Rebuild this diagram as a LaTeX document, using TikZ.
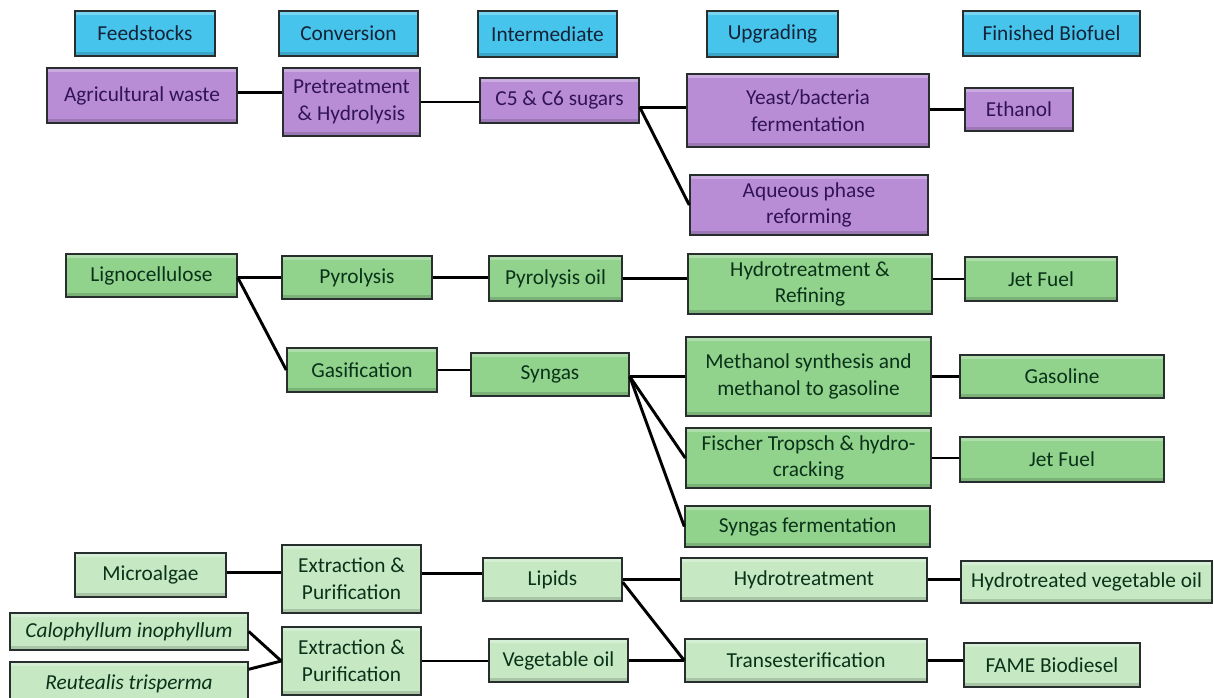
\documentclass[tikz,border=0pt]{standalone}
\usepackage{fontspec}
\setmainfont{Carlito}
\usetikzlibrary{calc}
\definecolor{cyanc}{RGB}{70,196,236}
\definecolor{purc}{RGB}{184,141,214}
\definecolor{grnc}{RGB}{145,210,140}
\definecolor{lgrc}{RGB}{198,233,196}
\definecolor{boxline}{RGB}{40,45,45}
\definecolor{hdrtext}{RGB}{20,35,55}
\definecolor{purtext}{RGB}{50,20,85}
\definecolor{grntext}{RGB}{10,50,25}
\tikzset{
  box/.style={draw=boxline, line width=1.1pt, inner sep=0pt, align=center,
    font=\fontsize{16}{20}\selectfont,
    path picture={
      \fill[white,opacity=0.28] (path picture bounding box.north west) rectangle ([yshift=-3pt]path picture bounding box.north east);
      \fill[black,opacity=0.15] (path picture bounding box.south west) rectangle ([yshift=3pt]path picture bounding box.south east);
    }},
  hdr/.style={box, fill=cyanc, text=hdrtext},
  pur/.style={box, fill=purc, text=purtext},
  grn/.style={box, fill=grnc, text=grntext},
  lgr/.style={box, fill=lgrc, text=grntext},
  link/.style={line width=2.2pt, black},
}
% \bx{style}{name}{x1}{y1}{x2}{y2}{text}  (pixel coordinates)
\newcommand{\bx}[7]{%
  \pgfmathsetmacro\bxw{(#5-#3)*0.75}%
  \pgfmathsetmacro\bxh{(#6-#4)*0.75}%
  \node[#1, minimum width=\bxw pt, minimum height=\bxh pt] (#2) at ({(#3+#5)/2},{(#4+#6)/2}) {#7};}
\begin{document}
\begin{tikzpicture}[x=0.75pt,y=-0.75pt]
\useasboundingbox (0,0) rectangle (1214,697);
% headers
\bx{hdr}{hf}{75}{11}{215}{56}{Feedstocks}
\bx{hdr}{hc}{279}{11}{418}{56}{Conversion}
\bx{hdr}{hi}{478}{11}{617}{57}{Intermediate}
\bx{hdr}{hu}{707}{11}{838}{57}{Upgrading}
\bx{hdr}{hb}{963}{11}{1140}{56}{Finished Biofuel}
% purple row
\bx{pur}{ag}{47}{68}{237}{123}{Agricultural waste}
\bx{pur}{pre}{283}{68}{420}{136}{Pretreatment\\\& Hydrolysis}
\bx{pur}{c5}{480}{78}{639}{123}{C5 \& C6 sugars}
\bx{pur}{ye}{687}{74}{929}{147}{Yeast/bacteria\\fermentation}
\bx{pur}{eth}{965}{88}{1073}{131}{Ethanol}
\bx{pur}{aq}{690}{175}{928}{235}{Aqueous phase\\reforming}
% green rows
\bx{grn}{lig}{66}{254}{237}{297}{Lignocellulose}
\bx{grn}{pyr}{282}{256}{432}{299}{Pyrolysis}
\bx{grn}{po}{489}{256}{622}{301}{Pyrolysis oil}
\bx{grn}{hr}{688}{254}{932}{314}{Hydrotreatment \&\\Refining}
\bx{grn}{jf1}{965}{257}{1117}{301}{Jet Fuel}
\bx{grn}{gas}{287}{348}{437}{392}{Gasification}
\bx{grn}{syn}{471}{353}{629}{396}{Syngas}
\bx{grn}{me}{686}{337}{931}{416}{Methanol synthesis and\\methanol to gasoline}
\bx{grn}{gl}{960}{355}{1164}{398}{Gasoline}
\bx{grn}{ft}{686}{428}{931}{488}{Fischer Tropsch \& hydro-\\cracking}
\bx{grn}{jf2}{960}{437}{1164}{482}{Jet Fuel}
\bx{grn}{sf}{685}{506}{930}{547}{Syngas fermentation}
% light green rows
\bx{lgr}{mic}{75}{553}{226}{597}{Microalgae}
\bx{lgr}{ex1}{282}{545}{421}{613}{Extraction \&\\Purification}
\bx{lgr}{lip}{483}{558}{622}{601}{Lipids}
\bx{lgr}{ht}{681}{558}{927}{601}{Hydrotreatment}
\bx{lgr}{hvo}{961}{561}{1212}{603}{Hydrotreated vegetable oil}
\bx{lgr}{cal}{10}{613}{248}{650}{\itshape Calophyllum inophyllum}
\bx{lgr}{reu}{10}{662}{248}{705}{\itshape Reutealis trisperma}
\bx{lgr}{ex2}{282}{627}{421}{695}{Extraction \&\\Purification}
\bx{lgr}{vo}{489}{639}{628}{682}{Vegetable oil}
\bx{lgr}{tr}{685}{639}{927}{682}{Transesterification}
\bx{lgr}{fame}{964}{643}{1140}{687}{FAME Biodiesel}
% connectors: purple
\draw[link] ([yshift=2pt]ag.east) -- ([yshift=2pt]ag.east -| pre.west);
\draw[link] (pre.east) -- (pre.east -| c5.west);
\coordinate (c5o) at ([yshift=-5pt]c5.east);
\draw[link] (c5o) -- (c5o -| ye.west);
\draw[link] (c5o) -- (aq.west);
\draw[link] (eth.west -| ye.east) -- (eth.west);
% green
\coordinate (lo) at (pyr.west -| lig.east);
\draw[link] (lo) -- (pyr.west);
\draw[link] (lo) -- (gas.west);
\draw[link] (pyr.east) -- (pyr.east -| po.west);
\draw[link] (po.east) -- (po.east -| hr.west);
\draw[link] (jf1.west -| hr.east) -- (jf1.west);
\draw[link] (gas.east) -- (gas.east -| syn.west);
\coordinate (so) at (me.west -| syn.east);
\draw[link] (so) -- (me.west);
\draw[link] (so) -- (ft.west);
\draw[link] (so) -- (sf.west);
\draw[link] (me.east) -- (me.east -| gl.west);
\draw[link] (ft.east) -- (ft.east -| jf2.west);
% light green
\draw[link] ([yshift=2pt]mic.east) -- ([yshift=2pt]mic.east -| ex1.west);
\draw[link] ([yshift=4pt]ex1.east) -- ([yshift=4pt]ex1.east -| lip.west);
\draw[link] (lip.east) -- (lip.east -| ht.west);
\draw[link] ([yshift=-2pt]lip.east) -- (tr.west);
\draw[link] (ht.east) -- (ht.east -| hvo.west);
\draw[link] (vo.east) -- (vo.east -| tr.west);
\draw[link] (tr.east) -- (tr.east -| fame.west);
\draw[link] (cal.east) -- (ex2.west);
\draw[link] ([yshift=-6pt]reu.north east) -- (ex2.west);
\draw[link] (ex2.east) -- (ex2.east -| vo.west);
\end{tikzpicture}
\end{document}
